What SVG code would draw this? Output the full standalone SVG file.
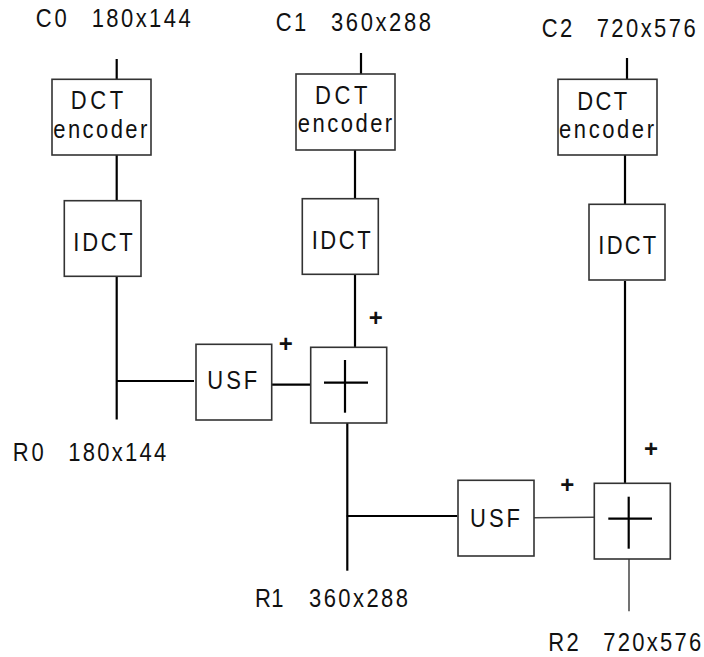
<svg xmlns="http://www.w3.org/2000/svg" width="704" height="657" viewBox="0 0 704 657">
<style>
.box{fill:#fff;stroke:#333;stroke-width:1.6}
.ln{stroke:#000;stroke-width:2.2;fill:none}
.thin{stroke:#444;stroke-width:1.5;fill:none}
.cr{stroke:#000;stroke-width:2.2}
text{font-family:"Liberation Sans",Arial,sans-serif;font-size:22px;fill:#111}
.pl{font-size:24px;text-anchor:middle;font-weight:bold}
</style>
<rect width="704" height="657" fill="#fff"/>
<g id="connectors">
<line class="ln" x1="116.7" y1="59" x2="116.7" y2="79"/>
<line class="ln" x1="116.7" y1="155" x2="116.7" y2="201"/>
<line class="ln" x1="116.7" y1="277" x2="116.7" y2="419.5"/>
<line class="ln" x1="116.7" y1="381" x2="194" y2="381"/>
<line class="ln" x1="270" y1="384.7" x2="311" y2="384.7"/>
<line class="ln" x1="361" y1="53" x2="361" y2="74"/>
<line class="ln" x1="355" y1="150" x2="355" y2="199"/>
<line class="ln" x1="355" y1="274" x2="355" y2="347"/>
<line class="ln" x1="347.3" y1="423" x2="347.3" y2="570.7"/>
<line class="ln" x1="346.7" y1="516" x2="457.3" y2="516"/>
<line class="thin" x1="534" y1="517.7" x2="594" y2="517.2"/>
<line class="ln" x1="627" y1="58" x2="627" y2="79"/>
<line class="ln" x1="625" y1="155" x2="625" y2="204"/>
<line class="ln" x1="625" y1="281" x2="625" y2="483"/>
<line class="thin" x1="629" y1="559" x2="629" y2="611.3"/>
</g>
<g id="labels">
<text transform="translate(35.7,26.7) scale(1,1.15)" textLength="31" lengthAdjust="spacing">C0</text>
<text transform="translate(91.7,26.7) scale(1,1.15)" textLength="99" lengthAdjust="spacing">180x144</text>
<text transform="translate(275.7,30.7) scale(1,1.15)" textLength="30.5" lengthAdjust="spacing">C1</text>
<text transform="translate(331,30.7) scale(1,1.15)" textLength="100" lengthAdjust="spacing">360x288</text>
<text transform="translate(541.7,36.7) scale(1,1.15)" textLength="30.5" lengthAdjust="spacing">C2</text>
<text transform="translate(596.7,36.7) scale(1,1.15)" textLength="99" lengthAdjust="spacing">720x576</text>
<text transform="translate(12.7,460.7) scale(1,1.15)" textLength="31" lengthAdjust="spacing">R0</text>
<text transform="translate(68.3,460.7) scale(1,1.15)" textLength="98" lengthAdjust="spacing">180x144</text>
<text transform="translate(255,606.7) scale(1,1.15)" textLength="28.5" lengthAdjust="spacing">R1</text>
<text transform="translate(309,606.7) scale(1,1.15)" textLength="99" lengthAdjust="spacing">360x288</text>
<text transform="translate(548.3,650.7) scale(1,1.15)" textLength="30.5" lengthAdjust="spacing">R2</text>
<text transform="translate(603.3,650.7) scale(1,1.15)" textLength="98" lengthAdjust="spacing">720x576</text>
<text class="pl" x="285.7" y="351.8">+</text>
<text class="pl" x="375.7" y="325.8">+</text>
<text class="pl" x="567.3" y="492.5">+</text>
<text class="pl" x="651" y="456.8">+</text>
</g>
<g id="dct0">
<rect class="box" x="52" y="79.3" width="99" height="75.7"/>
<text transform="translate(70.7,109.3) scale(1,1.15)" textLength="52.5" lengthAdjust="spacing">DCT</text>
<text transform="translate(53.3,137.7) scale(1,1.15)" textLength="94" lengthAdjust="spacing">encoder</text>
</g>
<g id="dct1">
<rect class="box" x="296" y="74" width="99" height="76"/>
<text transform="translate(315,104.3) scale(1,1.15)" textLength="52.5" lengthAdjust="spacing">DCT</text>
<text transform="translate(297.7,132.3) scale(1,1.15)" textLength="94.5" lengthAdjust="spacing">encoder</text>
</g>
<g id="dct2">
<rect class="box" x="558" y="79.3" width="99" height="75.7"/>
<text transform="translate(577.3,110) scale(1,1.15)" textLength="50" lengthAdjust="spacing">DCT</text>
<text transform="translate(559,137.7) scale(1,1.15)" textLength="95" lengthAdjust="spacing">encoder</text>
</g>
<g id="idct0">
<rect class="box" x="64.3" y="200.7" width="76.7" height="75.6"/>
<text transform="translate(73.3,251) scale(1,1.15)" textLength="59.5" lengthAdjust="spacing">IDCT</text>
</g>
<g id="idct1">
<rect class="box" x="302.3" y="198.7" width="76" height="75.6"/>
<text transform="translate(311.7,249) scale(1,1.15)" textLength="59" lengthAdjust="spacing">IDCT</text>
</g>
<g id="idct2">
<rect class="box" x="589" y="204.3" width="76" height="75.7"/>
<text transform="translate(598.3,254) scale(1,1.15)" textLength="58" lengthAdjust="spacing">IDCT</text>
</g>
<g id="usf0">
<rect class="box" x="196" y="344.3" width="75.7" height="75.7"/>
<text transform="translate(207.3,389.3) scale(1,1.15)" textLength="50" lengthAdjust="spacing">USF</text>
</g>
<g id="usf1">
<rect class="box" x="458" y="480.3" width="76" height="75.7"/>
<text transform="translate(470,526.7) scale(1,1.15)" textLength="50" lengthAdjust="spacing">USF</text>
</g>
<g id="sum0">
<rect class="box" x="310.7" y="347.3" width="76" height="75.7"/>
<line class="cr" x1="324" y1="382.7" x2="368" y2="382.7"/>
<line class="cr" x1="345" y1="360" x2="345" y2="412.7"/>
</g>
<g id="sum1">
<rect class="box" x="594.3" y="483.3" width="76" height="75.7"/>
<line class="cr" x1="608.3" y1="518.7" x2="652" y2="518.7"/>
<line class="cr" x1="628.7" y1="496.7" x2="628.7" y2="548.7"/>
</g>
</svg>
